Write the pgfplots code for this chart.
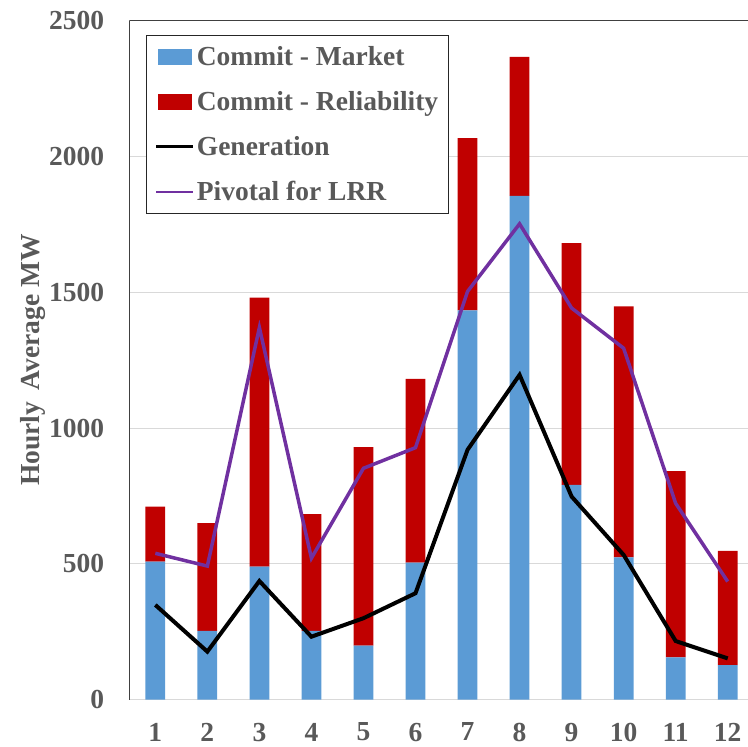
\documentclass[border=0pt]{standalone}
\usepackage{fontspec}
\setmainfont{Liberation Serif}
\usepackage{pgfplots}
\pgfplotsset{compat=1.18}
\definecolor{cmkt}{HTML}{5B9BD5}
\definecolor{crel}{HTML}{C00000}
\definecolor{cpiv}{HTML}{7030A0}
\definecolor{txt}{HTML}{595959}
\definecolor{grd}{HTML}{D9D9D9}
\pgfplotsset{
  base/.style={
    scale only axis,
    width=618.7bp, height=679bp,
    xmin=0.5, xmax=12.39,
    ymin=0, ymax=2500,
    xtick={1,2,...,12},
    ytick={0,500,1000,1500,2000,2500},
    major tick length=0pt,
    /pgf/number format/assume math mode=true,
    /pgf/number format/1000 sep={},
    tick label style={font=\fontsize{27.5bp}{32bp}\selectfont\bfseries, text=txt, inner sep=0pt},
    yticklabel style={xshift=-25bp},
    xticklabel style={yshift=-23bp},
  }
}
\begin{document}
\begin{tikzpicture}
\begin{axis}[base,
  name=ax,
  axis lines*=left,
  x axis line style={-, grd, line width=1.5bp},
  y axis line style={-, black!75, line width=1bp},
  ymajorgrids, grid style={grd, line width=1bp},
  ybar stacked, bar width=0.38,
  ylabel={Hourly\, Average MW},
  every axis y label/.style={at={(rel axis cs:0,0.5)}, anchor=center, rotate=90, yshift=96bp,
     font=\fontsize{27.5bp}{32bp}\selectfont\bfseries, text=txt},
]
\addplot[fill=cmkt, draw=none] coordinates {(1,508) (2,253) (3,490) (4,253) (5,199) (6,505) (7,1433) (8,1855) (9,791) (10,524) (11,156) (12,127)};
\addplot[fill=crel, draw=none] coordinates {(1,203) (2,397) (3,990) (4,430) (5,731) (6,676) (7,635) (8,512) (9,890) (10,924) (11,686) (12,421)};
\draw[black!75, line width=1bp] (rel axis cs:0,1) -- (rel axis cs:1,1);
\end{axis}
\begin{axis}[base,
  at={(ax.south west)}, anchor=south west,
  axis lines=none,
  legend cell align=left,
  legend style={at={(0.027,0.979)}, anchor=north west, draw=black!85, line width=0.75bp,
     font=\fontsize{27.5bp}{32bp}\selectfont\bfseries, text=txt,
     row sep=20.5bp, inner xsep=8bp, inner ysep=9bp},
]
\addlegendimage{legend image code/.code={\fill[cmkt] (0bp,-7.5bp) rectangle (33bp,7.5bp);}}
\addlegendentry{Commit - Market}
\addlegendimage{legend image code/.code={\fill[crel] (0bp,-7.5bp) rectangle (33bp,7.5bp);}}
\addlegendentry{Commit - Reliability}
\addplot[black, line width=4bp, sharp plot, legend image code/.code={\draw[black, line width=3.5bp] (-2bp,0bp) -- (35bp,0bp);}] coordinates {(1,349) (2,177) (3,437) (4,232) (5,300) (6,392) (7,920) (8,1196) (9,748) (10,533) (11,216) (12,152)};
\addlegendentry{Generation}
\addplot[cpiv, line width=3.5bp, sharp plot, legend image code/.code={\draw[cpiv, line width=2.5bp] (-2bp,0bp) -- (35bp,0bp);}] coordinates {(1,539) (2,492) (3,1370) (4,521) (5,852) (6,928) (7,1503) (8,1752) (9,1442) (10,1294) (11,723) (12,435)};
\addlegendentry{Pivotal for LRR}
\end{axis}
\pgfresetboundingbox
\useasboundingbox ([shift={(-129.3bp,-47.3bp)}]ax.south west) rectangle ++(748bp,747bp);
\end{tikzpicture}
\end{document}
